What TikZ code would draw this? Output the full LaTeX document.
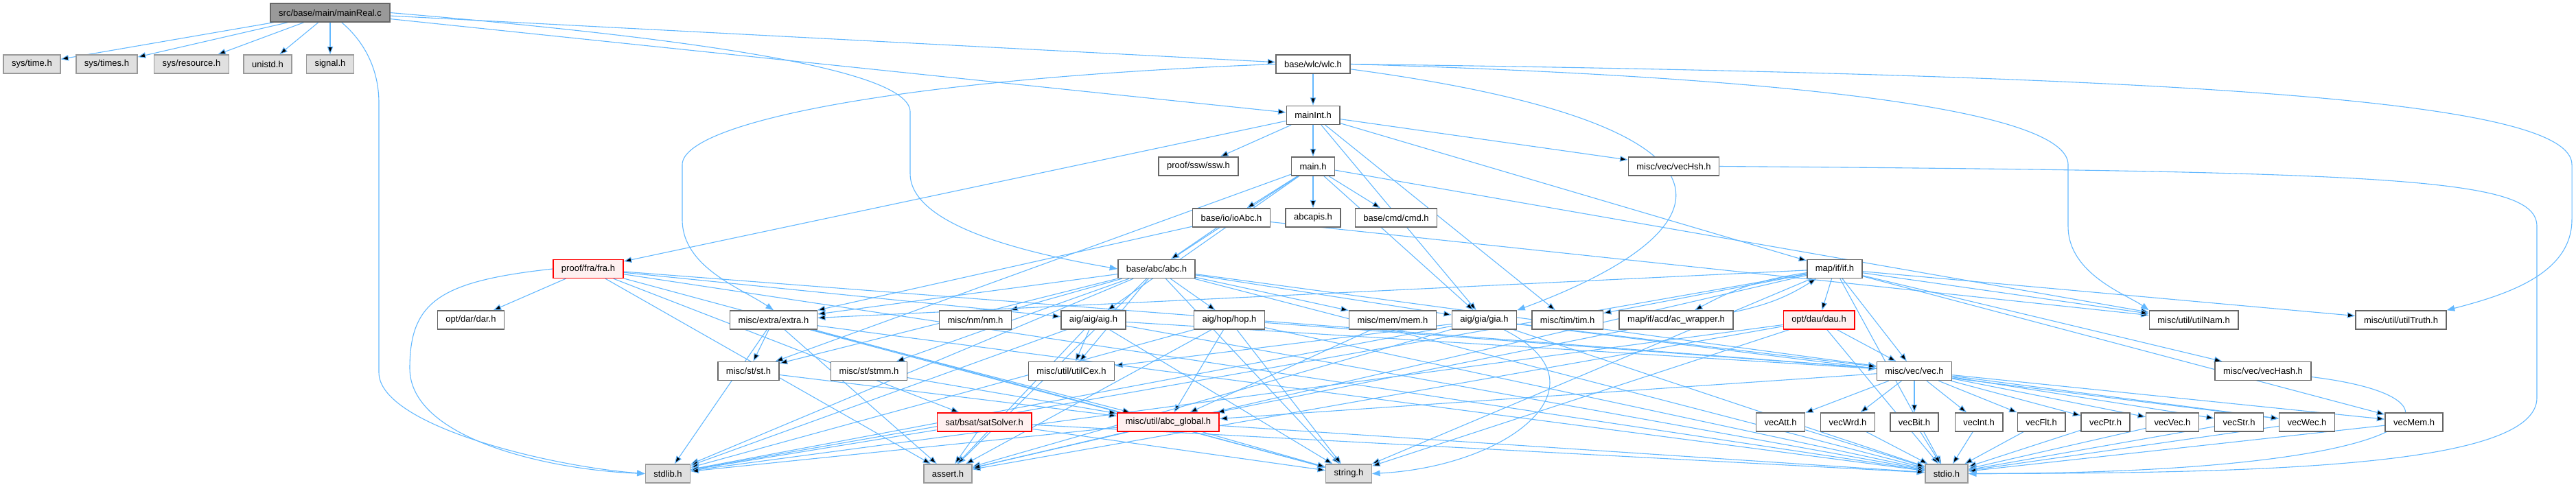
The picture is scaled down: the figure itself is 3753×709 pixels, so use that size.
\documentclass[tikz,border=0pt]{standalone}
\usepackage{fontspec}
\setmainfont{Liberation Sans}
\usepackage{xcolor}
\usepackage{tikz}
\usetikzlibrary{arrows.meta, backgrounds}

\definecolor{edgeblue}{HTML}{63B8FF}
\definecolor{boxgray}{HTML}{666666}
\definecolor{sysgray}{HTML}{999999}
\definecolor{sysfill}{HTML}{E0E0E0}
\definecolor{redfill}{HTML}{FFF0F0}

\begin{document}
\begin{tikzpicture}[
    x=0.2mm, y=-0.2mm,
    font=\fontsize{7.4}{9}\selectfont,
    hdr/.style={draw=boxgray, fill=white, line width=0.3mm, inner xsep=2.4mm,
                inner ysep=0pt, minimum height=5.4mm},
    sys/.style={hdr, draw=sysgray, fill=sysfill},
    trunc/.style={hdr, draw=red, fill=redfill},
    root/.style={hdr, fill=sysgray},
    arr/.style={-{Triangle[length=2.3mm,width=1.7mm]}, draw=edgeblue, line width=0.22mm},
  ]
  \useasboundingbox (0,0) rectangle (3753,709);

  % row 0: the file itself
  \node[root] (mr) at (481,18.5) {src/base/main/mainReal.c};

  % row 1
  \node[sys] (systime)  at (46.5,93.5)  {sys/time.h};
  \node[sys] (systimes) at (155.5,93.5) {sys/times.h};
  \node[sys] (sysres)   at (279,93.5)   {sys/resource.h};
  \node[sys] (unistd)   at (390,93.5)   {unistd.h};
  \node[sys] (signal)   at (481,93.5)   {signal.h};
  \node[hdr] (wlc)      at (1913,93.5)  {base/wlc/wlc.h};

  % rows 2-4
  \node[hdr] (mainint) at (1913,168)     {mainInt.h};
  \node[hdr] (ssw)     at (1746,242.5)   {proof/ssw/ssw.h};
  \node[hdr] (mainh)   at (1913,242.5)   {main.h};
  \node[hdr] (vechsh)  at (2438.5,242.5) {misc/vec/vecHsh.h};
  \node[hdr] (ioabc)   at (1794,317.5)   {base/io/ioAbc.h};
  \node[hdr] (abcapis) at (1913,317.5)   {abcapis.h};
  \node[hdr] (cmd)     at (2034,317.5)   {base/cmd/cmd.h};

  % row 5
  \node[trunc] (fra) at (857,392)  {proof/fra/fra.h};
  \node[hdr]   (abc) at (1685,392) {base/abc/abc.h};
  \node[hdr]   (ifh) at (2673,392) {map/if/if.h};

  % row 6
  \node[hdr]   (dar)       at (686,466.5)    {opt/dar/dar.h};
  \node[hdr]   (extra)     at (1127,466.5)   {misc/extra/extra.h};
  \node[hdr]   (nm)        at (1421,466.5)   {misc/nm/nm.h};
  \node[hdr]   (aig)       at (1593,466.5)   {aig/aig/aig.h};
  \node[hdr]   (hop)       at (1791,466.5)   {aig/hop/hop.h};
  \node[hdr]   (mem)       at (2029,466.5)   {misc/mem/mem.h};
  \node[hdr]   (gia)       at (2162.5,466.5) {aig/gia/gia.h};
  \node[hdr]   (tim)       at (2283.5,466.5) {misc/tim/tim.h};
  \node[hdr]   (acw)       at (2442,466.5)   {map/if/acd/ac\_wrapper.h};
  \node[trunc] (dau)       at (2650,466.5)   {opt/dau/dau.h};
  \node[hdr]   (utilnam)   at (3196,466.5)   {misc/util/utilNam.h};
  \node[hdr]   (utiltruth) at (3498,466.5)   {misc/util/utilTruth.h};

  % row 7
  \node[hdr] (st)      at (1090.5,541) {misc/st/st.h};
  \node[hdr] (stmm)    at (1266,541)   {misc/st/stmm.h};
  \node[hdr] (utilcex) at (1561,541)   {misc/util/utilCex.h};
  \node[hdr] (vec)     at (2789,541)   {misc/vec/vec.h};
  \node[hdr] (vechash) at (3297,541)   {misc/vec/vecHash.h};

  % row 8
  \node[trunc] (sat)    at (1434,615.5)   {sat/bsat/satSolver.h};
  \node[trunc] (global) at (1702,615.5)   {misc/util/abc\_global.h};
  \node[hdr]   (vecatt) at (2594,615.5)   {vecAtt.h};
  \node[hdr]   (vecwrd) at (2692,615.5)   {vecWrd.h};
  \node[hdr]   (vecbit) at (2789,615.5)   {vecBit.h};
  \node[hdr]   (vecint) at (2883,615.5)   {vecInt.h};
  \node[hdr]   (vecflt) at (2974,615.5)   {vecFlt.h};
  \node[hdr]   (vecptr) at (3067.5,615.5) {vecPtr.h};
  \node[hdr]   (vecvec) at (3165,615.5)   {vecVec.h};
  \node[hdr]   (vecstr) at (3262,615.5)   {vecStr.h};
  \node[hdr]   (vecwec) at (3361,615.5)   {vecWec.h};
  \node[hdr]   (vecmem) at (3517,615.5)   {vecMem.h};

  % row 9: system headers
  \node[sys] (stdlib) at (973,690.5)  {stdlib.h};
  \node[sys] (assert) at (1381,690.5) {assert.h};
  \node[sys] (string) at (1965,690.5) {string.h};
  \node[sys] (stdio)  at (2836,690.5) {stdio.h};

  % include edges, kept behind the boxes
  \begin{pgfonlayer}{background}
  \draw[arr] (mr) edge (systime) edge (systimes) edge (sysres) edge (unistd)
    edge (signal) edge (wlc) edge (mainint);
  % long detours: down a vertical lane, then into the target
  \draw[arr] (mr.east) .. controls (1000,55) and (1326,100) .. (1326,163)
    -- (1326,253) .. controls (1326,330) and (1500,370) .. (abc.west);
  \draw[arr] (mr) .. controls (530,60) and (552,100) .. (552,150)
    -- (552,543) .. controls (552,620) and (800,680) .. (stdlib.west);

  \draw[arr] (wlc) edge (mainint);
  \draw[arr] (wlc.west) .. controls (1300,115) and (994,180) .. (994,240)
    -- (994,320) .. controls (994,390) and (1080,420) .. (extra.north);
  \draw[arr] (wlc) .. controls (2560,180) and (2540,330) .. (gia.north east);
  \draw[arr] (wlc.east) .. controls (2700,115) and (3013,170) .. (3013,240)
    -- (3013,330) .. controls (3013,400) and (3100,430) .. (utilnam.north west);
  \draw[arr] (wlc.east) .. controls (3250,110) and (3747,150) .. (3747,240)
    -- (3747,320) .. controls (3747,400) and (3650,430) .. (utiltruth.north east);

  \draw[arr] (mainint) edge (mainh) edge (ssw) edge (fra) edge (vechsh)
    edge (ifh) edge (tim) edge (gia);
  \draw[arr] (mainh) edge (abc) edge (abcapis) edge (cmd) edge (ioabc)
    edge (gia) edge (aig) edge (utilnam) edge (st);
  \draw[arr] (ioabc) edge (abc) edge (extra) edge (utilnam);
  \draw[arr] (vechsh.east) .. controls (3500,250) and (3696,260) .. (3696,330)
    -- (3696,580) .. controls (3696,680) and (3300,690) .. (stdio.east);

  \draw[arr] (fra) edge (dar) edge (sat) edge (aig) edge (vec)
    edge (stdio) edge (assert) edge (string);
  \draw[arr] (fra.west) .. controls (640,410) and (597,440) .. (597,537)
    .. controls (597,640) and (800,685) .. (stdlib.west);

  \draw[arr] (abc) edge (stdio) edge (stdlib) edge (string) edge (assert)
    edge (vec) edge (hop) edge (gia) edge (st) edge (stmm) edge (nm)
    edge (mem) edge (utilcex) edge (extra);
  \draw[arr] (ifh) edge (stdio) edge (stdlib) edge (string) edge (assert)
    edge (vec) edge (tim) edge[bend right=10] (acw) edge (dau) edge (utilnam)
    edge (utiltruth) edge (vecmem) edge (vechash) edge (extra);
  \draw[arr] (acw) edge[bend right=10] (ifh) edge (global);

  \draw[arr] (aig) edge (stdio) edge (stdlib) edge (string) edge (assert)
    edge (vec) edge (utilcex);
  \draw[arr] (hop) edge (stdio) edge (stdlib) edge (string) edge (assert)
    edge (vec) edge (global);
  \draw[arr] (gia) edge (stdio) edge (stdlib) edge (assert) edge (vec)
    edge (vecwec) edge (utilcex);
  \draw[arr] (gia) .. controls (2350,560) and (2200,680) .. (string.east);
  \draw[arr] (mem) edge (global);
  \draw[arr] (dau) edge (stdio) edge (stdlib) edge (string) edge (assert) edge (vec);
  \draw[arr] (extra) edge (st) edge (stdio) edge (stdlib) edge (string)
    edge (assert) edge (global);
  \draw[arr] (st) edge (global);
  \draw[arr] (stmm) edge (global);

  \draw[arr] (vec) edge (vecatt) edge (vecwrd) edge (vecbit) edge (vecint)
    edge (vecflt) edge (vecptr) edge (vecvec) edge (vecstr) edge (vecwec)
    edge (vecmem) edge (global);
  \draw[arr] (vecatt) edge (stdio);
  \draw[arr] (vecwrd) edge (stdio);
  \draw[arr] (vecbit) edge (stdio);
  \draw[arr] (vecint) edge (stdio);
  \draw[arr] (vecflt) edge (stdio);
  \draw[arr] (vecptr) edge (stdio);
  \draw[arr] (vecvec) edge (stdio);
  \draw[arr] (vecstr) edge (stdio);
  \draw[arr] (vecwec) edge (stdio);
  \draw[arr] (vecmem) edge (stdio);
  \draw[arr] (vechash) .. controls (3620,580) and (3560,690) .. (stdio.east);

  \draw[arr] (sat) edge (stdio) edge (stdlib) edge (string) edge (assert);
  \draw[arr] (global) edge (stdio) edge (stdlib) edge (string) edge (assert);
  \end{pgfonlayer}

\end{tikzpicture}
\end{document}
